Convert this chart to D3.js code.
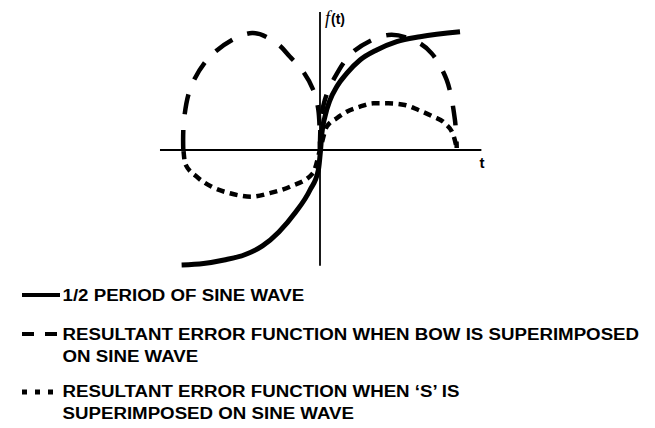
<!DOCTYPE html>
<html>
<head>
<meta charset="utf-8">
<script src="https://cdn.jsdelivr.net/npm/d3@7"></script>
<style>
  html,body{margin:0;padding:0;background:#fff;}
  svg{display:block;}
</style>
</head>
<body>
<div id="chart"></div>
<script>
// half period of sine wave (t and f(t) in unit scale)
var sineT=[-1.01,-0.85,-0.7,-0.55,-0.42,-0.3,-0.18,-0.073,-0.012,0.004,0.014,0.036,0.073,0.122,0.195,0.292,0.414,0.56,0.73,1.022];
var sineV=[-0.983,-0.97,-0.94,-0.895,-0.82,-0.7,-0.535,-0.342,-0.171,0,0.145,0.285,0.427,0.541,0.655,0.769,0.855,0.926,0.968,1.011];

// bow superimposed: two humps
var bowLeftT=[-0.998,-0.993,-0.936,-0.779,-0.496,-0.316,-0.219,-0.122,-0.049,-0.012,0];
var bowLeftV=[0,0.256,0.556,0.826,1.0,0.912,0.797,0.669,0.513,0.342,0];
var bowRightT=[0,0.007,0.036,0.097,0.243,0.499,0.706,0.815,0.925,0.985,0.998];
var bowRightV=[0,0.256,0.43,0.598,0.84,0.983,0.926,0.826,0.598,0.256,0.017];

// 'S' superimposed
var sT=[-0.996,-0.985,-0.9,-0.79,-0.657,-0.499,-0.365,-0.219,-0.051,0,0.049,0.122,0.195,0.292,0.389,0.499,0.62,0.718,0.827,0.912,0.973,0.998];
var sV=[-0.01,-0.114,-0.228,-0.314,-0.37,-0.399,-0.368,-0.314,-0.197,0,0.199,0.271,0.327,0.37,0.399,0.399,0.385,0.342,0.285,0.228,0.128,0.017];

var legendLabels=[
	["1/2 PERIOD OF SINE WAVE"],
	["RESULTANT ERROR FUNCTION WHEN BOW IS SUPERIMPOSED","ON SINE WAVE"],
	["RESULTANT ERROR FUNCTION WHEN \u2018S\u2019 IS","SUPERIMPOSED ON SINE WAVE"]
];

var WIDTH=655,HEIGHT=428;

var svg=d3.select("#chart").append("svg")
	.attr("width",WIDTH)
	.attr("height",HEIGHT);

var x=d3.scaleLinear().domain([-1,1]).range([183,457]),
	y=d3.scaleLinear().domain([-1,1]).range([267,33]);

function zip(a,b){
	return a.map(function(d,i){ return [d,b[i]]; });
}

var arc=d3.line()
	.x(function(d){ return x(d[0]); })
	.y(function(d){ return y(d[1]); })
	.curve(d3.curveCatmullRom.alpha(0.5));

var smooth=d3.line()
	.x(function(d){ return x(d[0]); })
	.y(function(d){ return y(d[1]); })
	.curve(d3.curveMonotoneX);

// axes
var axes=svg.append("g").attr("stroke","#000").attr("stroke-width",1.8);
axes.append("line")
	.attr("x1",x(-1.168)).attr("x2",x(1.178))
	.attr("y1",y(0)).attr("y2",y(0));
axes.append("line")
	.attr("x1",x(0)).attr("x2",x(0))
	.attr("y1",y(1.18)).attr("y2",y(-0.99));

svg.append("text")
	.attr("x",x(0)+5).attr("y",y(1.18)+12.5)
	.call(function(t){
		t.append("tspan").text("f")
			.style("font-family","'Liberation Serif','DejaVu Serif',serif")
			.style("font-style","italic")
			.style("font-size","18px");
		t.append("tspan").text("(t)")
			.attr("dx",1)
			.style("font-family","'Liberation Sans',Arial,sans-serif")
			.style("font-weight","bold")
			.style("font-size","14px");
	});

svg.append("text")
	.attr("x",x(1.165)).attr("y",y(0)+18)
	.style("font-family","'Liberation Sans',Arial,sans-serif")
	.style("font-weight","bold")
	.style("font-size","15px")
	.text("t");

var curves=svg.append("g").attr("fill","none").attr("stroke","#000");

curves.append("path")
	.attr("d",smooth(zip(sT,sV)))
	.attr("stroke-width",4.5)
	.attr("stroke-dasharray","8,5.5");

curves.selectAll("path.bow")
	.data([zip(bowLeftT,bowLeftV),zip(bowRightT,bowRightV)])
	.enter().append("path")
		.attr("class","bow")
		.attr("d",arc)
		.attr("stroke-width",4.5)
		.attr("stroke-dasharray","20,16");

curves.append("path")
	.attr("d",smooth(zip(sineT,sineV)))
	.attr("stroke-width",5);

// legend
var legendY=[295,334,392],
	baseY=[300.5,340,397],
	swatch=[{x2:60,dash:null,w:3.8},{x2:58,dash:"12,11",w:4},{x2:54,dash:"5,8",w:5}];

var legend=svg.append("g");
legendLabels.forEach(function(lines,i){
	legend.append("line")
		.attr("x1",22).attr("x2",swatch[i].x2)
		.attr("y1",legendY[i]).attr("y2",legendY[i])
		.attr("stroke","#000")
		.attr("stroke-width",swatch[i].w)
		.attr("stroke-dasharray",swatch[i].dash);
	var g=legend.append("g")
		.attr("transform","translate(62.5,"+baseY[i]+") scale(1.1,1)");
	g.selectAll("text")
		.data(lines)
		.enter().append("text")
			.attr("x",0)
			.attr("y",function(d,j){ return j*22; })
			.style("font-family","'Liberation Sans',Arial,sans-serif")
			.style("font-weight","bold")
			.style("font-size","17px")
			.text(function(d){ return d; });
});
</script>
</body>
</html>
